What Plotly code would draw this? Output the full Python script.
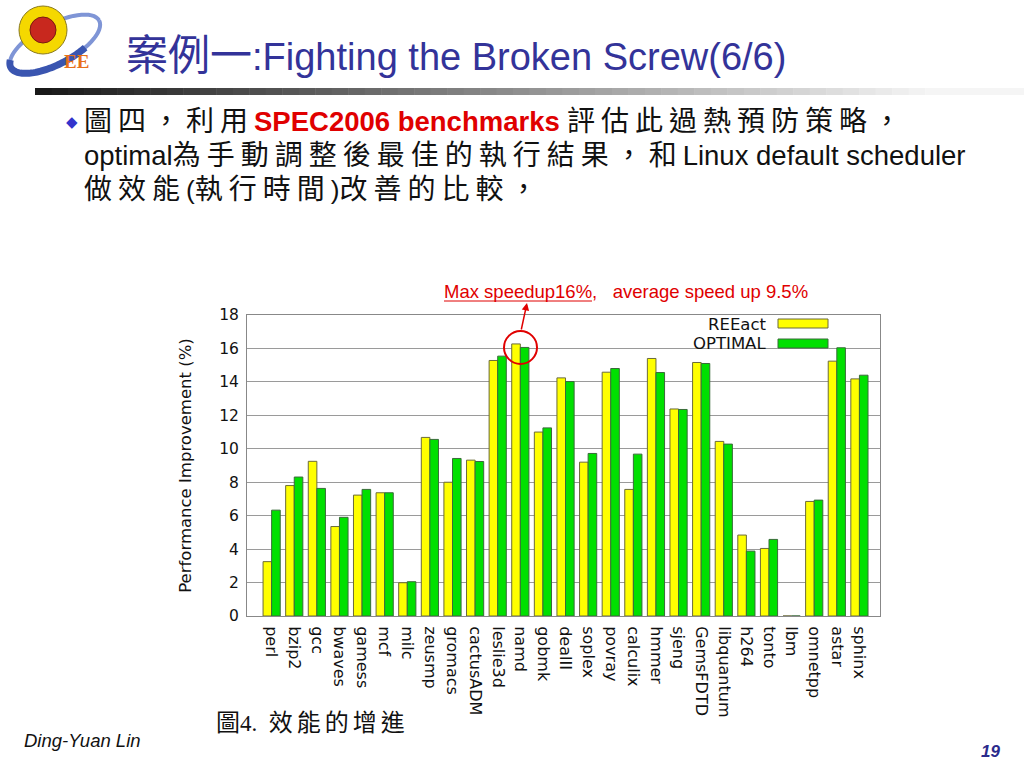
import math
import plotly.graph_objects as go

benchmarks = ["perl", "bzip2", "gcc", "bwaves", "gamess", "mcf", "milc", "zeusmp", "gromacs",
              "cactusADM", "leslie3d", "namd", "gobmk", "dealII", "soplex", "povray", "calculix",
              "hmmer", "sjeng", "GemsFDTD", "libquantum", "h264", "tonto", "lbm", "omnetpp",
              "astar", "sphinx"]
reeact = [3.25, 7.8, 9.25, 5.35, 7.23, 7.37, 1.99, 10.68, 8.0, 9.32, 15.28, 16.27, 11.0, 14.24,
          9.2, 14.58, 7.57, 15.4, 12.38, 15.16, 10.44, 4.84, 4.04, 0.0, 6.85, 15.24, 14.18]
optimal = [6.33, 8.31, 7.63, 5.9, 7.57, 7.37, 2.05, 10.56, 9.42, 9.24, 15.54, 16.06, 11.25, 14.02,
           9.72, 14.8, 9.68, 14.56, 12.35, 15.1, 10.28, 3.88, 4.58, 0.0, 6.93, 16.04, 14.4]
y_ticks = [0, 2, 4, 6, 8, 10, 12, 14, 16, 18]

W, H = 1024, 768
L, R, T, B = 247, 144, 315, 152
PW, PH = W - L - R, H - T - B


def px(x):
    return (x - L) / PW


def py(y):
    return (H - B - y) / PH


def is_cjk(ch):
    return ord(ch) >= 0x2E80


def mix(s, cjk_size, spacing=0):
    """wrap CJK runs in a span with a larger font size"""
    out, buf, mode = [], "", None
    for ch in s:
        m = is_cjk(ch)
        if mode is None or m == mode:
            buf += ch
        else:
            out.append((mode, buf))
            buf = ch
        mode = m
    if buf:
        out.append((mode, buf))
    res = ""
    for m, t in out:
        if m:
            res += (f"<span style='font-size:{cjk_size}px;font-family:Noto Sans CJK TC;"
                    f"letter-spacing:{spacing}px'>{t}</span>")
        else:
            res += t
    return res


fig = go.Figure()
fig.add_trace(go.Bar(x=benchmarks, y=reeact, name="REEact",
                     marker=dict(color="#FFFF00", line=dict(color="#6b6b3a", width=1))))
fig.add_trace(go.Bar(x=benchmarks, y=optimal, name="OPTIMAL",
                     marker=dict(color="#00E000", line=dict(color="#3a6b3a", width=1))))

chart_font = "DejaVu Sans"
fig.update_layout(
    width=W, height=H,
    margin=dict(l=L, r=R, t=T, b=B, pad=0),
    paper_bgcolor="white", plot_bgcolor="white",
    showlegend=False,
    barmode="group", bargap=0.24, bargroupgap=0,
    font=dict(family=chart_font, color="#222"),
    xaxis=dict(range=[-1.09, len(benchmarks) - 1 + 0.91], tickangle=90,
               tickfont=dict(size=16, family=chart_font, color="#111"),
               showgrid=False, showline=True, linecolor="#888", mirror=True,
               ticks="", ticklen=0, ticklabelstandoff=6, automargin=False),
    yaxis=dict(range=[0, 18], tickvals=y_ticks, ticks="", showgrid=True, gridcolor="#9a9a9a",
               gridwidth=1, zeroline=False, showline=True, linecolor="#888", mirror=True,
               tickfont=dict(size=15.5, family=chart_font, color="#111"), ticklabelstandoff=4,
               title=dict(text="Performance Improvement (%)", font=dict(size=16.5, family=chart_font, color="#111"),
                          standoff=23), automargin=False),
)

shapes = []
# legend box background (covers gridlines only)
shapes.append(dict(type="rect", xref="paper", yref="paper", x0=px(690), x1=px(879), y0=py(350), y1=py(316),
                   fillcolor="white", line=dict(width=0), layer="between"))
# legend swatches
shapes.append(dict(type="rect", xref="paper", yref="paper", x0=px(778), x1=px(828), y0=py(328), y1=py(319),
                   fillcolor="#FFFF00", line=dict(color="#6b6b3a", width=1)))
shapes.append(dict(type="rect", xref="paper", yref="paper", x0=px(778), x1=px(828), y0=py(348), y1=py(339),
                   fillcolor="#00E000", line=dict(color="#3a6b3a", width=1)))
# red circle around max
shapes.append(dict(type="circle", xref="paper", yref="paper", x0=px(504), x1=px(537), y0=py(364), y1=py(331),
                   line=dict(color="#E00000", width=2)))
# underline for "Max speedup16%"
shapes.append(dict(type="line", xref="paper", yref="paper", x0=px(444), x1=px(592), y0=py(301), y1=py(301),
                   line=dict(color="#E00000", width=1)))
# gradient bar under title
n = 60
x_start, x_end = 35, 1024
for i in range(n):
    t = i / (n - 1)
    v = int(25 + (245 - 25) * min(1, t * 1.1))
    c = f"rgb({v},{v},{v})"
    xa = x_start + (x_end - x_start) * i / n
    xb = x_start + (x_end - x_start) * (i + 1) / n + 0.5
    shapes.append(dict(type="rect", xref="paper", yref="paper", x0=px(xa), x1=px(xb), y0=py(95), y1=py(88),
                       fillcolor=c, line=dict(width=0)))


# logo approximation: tilted ellipse swoosh
def ellipse_path(cx, cy, a, b, ang_deg, t0, t1, steps=60):
    ang = math.radians(ang_deg)
    pts = []
    for k in range(steps + 1):
        t = math.radians(t0 + (t1 - t0) * k / steps)
        ex, ey = a * math.cos(t), b * math.sin(t)
        x = cx + ex * math.cos(ang) - ey * math.sin(ang)
        y = cy + ex * math.sin(ang) + ey * math.cos(ang)
        pts.append(f"{px(x):.5f},{py(y):.5f}")
    return "M" + " L".join(pts)


shapes.append(dict(type="path", xref="paper", yref="paper",
                   path=ellipse_path(55, 44, 50, 20, -28, 0, 360),
                   line=dict(color="#7f95d6", width=4)))
shapes.append(dict(type="path", xref="paper", yref="paper",
                   path=ellipse_path(55, 44, 50, 20, -28, 60, 200),
                   line=dict(color="#3a55b0", width=7)))
shapes.append(dict(type="circle", xref="paper", yref="paper", x0=px(19), x1=px(67), y0=py(54), y1=py(6),
                   fillcolor="#F5D800", line=dict(color="#8a7a20", width=1)))
shapes.append(dict(type="circle", xref="paper", yref="paper", x0=px(30), x1=px(56), y0=py(43), y1=py(17),
                   fillcolor="#C8281E", line=dict(color="#7a1a10", width=1)))
fig.update_layout(shapes=shapes)

sans = "Liberation Sans, Arial, Noto Sans CJK TC"
ann = []
ann.append(dict(text="<b>EE</b>", x=px(76), y=py(62), xref="paper", yref="paper", showarrow=False,
                font=dict(family="Liberation Serif", size=19, color="#E8701A"), xanchor="center", yanchor="middle"))
ann.append(dict(text=mix("案例一:Fighting the Broken Screw(6/6)", 42), x=px(124), y=py(51), xref="paper",
                yref="paper", showarrow=False, xanchor="left", yanchor="middle",
                font=dict(family=sans, size=38, color="#333399")))
ann.append(dict(text="◆", x=px(72), y=py(122), xref="paper", yref="paper", showarrow=False,
                xanchor="center", yanchor="middle", font=dict(family="DejaVu Sans", size=15, color="#3333CC")))
sp = 6
cs = 28
lines = [
    mix("圖四，利用", cs, sp) + "<span style='color:#E00000;font-weight:bold;font-size:27.5px'>SPEC2006 benchmarks</span> "
    + mix("評估此過熱預防策略，", cs, sp),
    "<span style='font-size:27.5px'>optimal</span>" + mix("為手動調整後最佳的執行結果，和", cs, sp)
    + "<span style='font-size:27.5px'>Linux default scheduler</span>",
    mix("做效能", cs, sp) + "(" + mix("執行時間", cs, sp) + ")" + mix("改善的比較，", cs, sp),
]
ann.append(dict(text="<br>".join(lines), x=px(82), y=py(97), xref="paper", yref="paper", showarrow=False,
                xanchor="left", yanchor="top", align="left", font=dict(family=sans, size=26.3, color="#111")))
# legend labels
ann.append(dict(text="REEact", x=px(768), y=py(324), xref="paper", yref="paper", showarrow=False,
                xanchor="right", yanchor="middle", font=dict(family=chart_font, size=16.5, color="#111")))
ann.append(dict(text="OPTIMAL", x=px(768), y=py(343), xref="paper", yref="paper", showarrow=False,
                xanchor="right", yanchor="middle", font=dict(family=chart_font, size=16.5, color="#111")))
# red note
ann.append(dict(text="Max speedup16%,\u00a0\u00a0\u00a0average speed up 9.5%", x=px(442), y=py(291),
                xref="paper", yref="paper", showarrow=False, xanchor="left", yanchor="middle",
                font=dict(family=sans, size=18.5, color="#E00000")))
ann.append(dict(text="", x=px(527), y=py(303), xref="paper", yref="paper", showarrow=True,
                ax=-6, ay=28, arrowhead=2, arrowsize=1, arrowwidth=1.5, arrowcolor="#E00000"))
# caption and footer
ann.append(dict(text=mix("圖", 24) + "<span style='font-family:Liberation Serif'>4.\u00a0\u00a0</span>"
                + mix("效能的增進", 24, 4),
                x=px(214), y=py(720), xref="paper", yref="paper", showarrow=False,
                xanchor="left", yanchor="middle", font=dict(family="Liberation Serif", size=23, color="#111")))
ann.append(dict(text="<i>Ding-Yuan Lin</i>", x=px(22), y=py(740), xref="paper", yref="paper", showarrow=False,
                xanchor="left", yanchor="middle", font=dict(family=sans, size=18.5, color="#111")))
ann.append(dict(text="<b><i>19</i></b>", x=px(1002), y=py(751), xref="paper", yref="paper", showarrow=False,
                xanchor="right", yanchor="middle", font=dict(family=sans, size=17, color="#2B2B8C")))
fig.update_layout(annotations=ann)

fig.write_html("out.html", config={"displayModeBar": False},
               post_script="document.body.style.margin='0';document.body.style.overflow='hidden';")
